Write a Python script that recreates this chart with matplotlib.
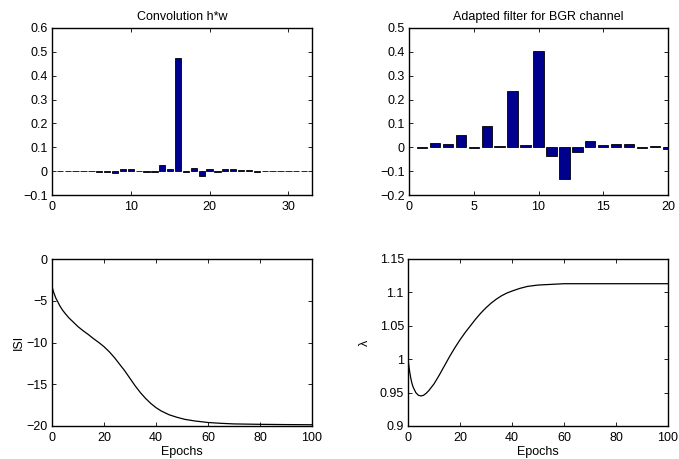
import matplotlib
matplotlib.use("Agg")
import matplotlib.pyplot as plt
import numpy as np

plt.rcParams['font.family'] = ['Liberation Sans', 'DejaVu Sans']
plt.rcParams['font.size'] = 9

# Convolution h*w (indices 1..32)
conv_idx = list(range(1, 33))
conv_vals = [0.0, 0.0, 0.0, 0.0, 0.0, -0.004, -0.004, -0.007, 0.007, 0.008,
             0.002, -0.002, -0.002, 0.027, 0.01, 0.475, -0.002, 0.013, -0.02, 0.008,
             -0.002, 0.01, 0.007, 0.005, 0.006, -0.004, 0.001, -0.001, -0.001, -0.001,
             -0.001, -0.001]

# Adapted filter (indices 1..20)
filt_idx = list(range(1, 21))
filt_vals = [-0.002, 0.018, 0.013, 0.052, -0.002, 0.088, 0.004, 0.235, 0.008, 0.402,
             -0.035, -0.135, -0.018, 0.025, 0.01, 0.013, 0.013, -0.002, 0.005, -0.008]

# ISI curve
isi_epochs = [0, 0.5, 1, 1.5, 2, 3, 4, 5, 6.5, 8, 10, 12, 14, 16, 18, 20, 22, 24, 26,
              28, 30, 32, 34, 36, 38, 40, 42, 45, 48, 51, 55, 60, 65, 70, 80, 90, 100]
isi_vals = [-3.3, -3.85, -4.3, -4.7, -5.0, -5.6, -6.1, -6.5, -7.05, -7.5, -8.1, -8.6,
            -9.05, -9.55, -10.0, -10.5, -11.1, -11.8, -12.6, -13.4, -14.3, -15.2, -16.0,
            -16.7, -17.3, -17.8, -18.2, -18.65, -18.95, -19.2, -19.4, -19.58, -19.68,
            -19.75, -19.8, -19.83, -19.85]

# lambda curve
lam_epochs = [0, 0.5, 1, 1.5, 2, 3, 4, 5, 6, 7, 8, 10, 12, 14, 16, 18, 20, 22, 24, 26,
              28, 30, 32, 34, 36, 38, 40, 43, 46, 50, 55, 60, 70, 80, 100]
lam_vals = [1.0, 0.985, 0.973, 0.964, 0.958, 0.95, 0.946, 0.945, 0.946, 0.949, 0.953,
            0.963, 0.976, 0.99, 1.004, 1.017, 1.029, 1.04, 1.05, 1.06, 1.069, 1.077,
            1.084, 1.09, 1.095, 1.099, 1.102, 1.106, 1.109, 1.111, 1.112, 1.113, 1.113,
            1.113, 1.113]

W, H = 679, 459
fig = plt.figure(figsize=(W / 100, H / 100), dpi=100)

def ax_at(l, r, t, b):
    return fig.add_axes([l / W, 1 - b / H, (r - l) / W, (b - t) / H])

def style(ax):
    ax.tick_params(direction='in', top=True, right=True, length=3, width=0.6)
    ax.tick_params(axis='x', pad=4)
    ax.tick_params(axis='y', pad=3)
    for s in ax.spines.values():
        s.set_linewidth(1.0)

bar_color = '#00008F'

ax1 = ax_at(52, 312, 28, 195)
ax1.bar(conv_idx, conv_vals, width=0.8, color=bar_color, edgecolor='black', linewidth=0.6)
ax1.set_xlim(0, 33)
ax1.set_ylim(-0.1, 0.6)
ax1.set_xticks([0, 10, 20, 30])
ax1.set_yticks(np.round(np.arange(-0.1, 0.61, 0.1), 2))
ax1.set_yticklabels(['\u22120.1', '0', '0.1', '0.2', '0.3', '0.4', '0.5', '0.6'])
ax1.set_title('Convolution h*w', fontsize=9, pad=6)
style(ax1)

ax2 = ax_at(409, 668, 28, 195)
ax2.bar(filt_idx, filt_vals, width=0.8, color=bar_color, edgecolor='black', linewidth=0.6)
ax2.set_xlim(0, 20)
ax2.set_ylim(-0.2, 0.5)
ax2.set_xticks([0, 5, 10, 15, 20])
ax2.set_yticks(np.round(np.arange(-0.2, 0.51, 0.1), 2))
ax2.set_yticklabels(['\u22120.2', '\u22120.1', '0', '0.1', '0.2', '0.3', '0.4', '0.5'])
ax2.set_title('Adapted filter for BGR channel', fontsize=9, pad=6)
style(ax2)

ax3 = ax_at(52, 312, 259, 426)
ax3.plot(isi_epochs, isi_vals, color='black', linewidth=0.9)
ax3.set_xlim(0, 100)
ax3.set_ylim(-20, 0)
ax3.set_xticks([0, 20, 40, 60, 80, 100])
ax3.set_yticks([-20, -15, -10, -5, 0])
ax3.set_yticklabels(['\u221220', '\u221215', '\u221210', '\u22125', '0'])
ax3.set_xlabel('Epochs', labelpad=2)
ax3.set_ylabel('ISI', labelpad=1)
style(ax3)

ax4 = ax_at(408, 668, 259, 426)
ax4.plot(lam_epochs, lam_vals, color='black', linewidth=0.9)
ax4.set_xlim(0, 100)
ax4.set_ylim(0.9, 1.15)
ax4.set_xticks([0, 20, 40, 60, 80, 100])
ax4.set_yticks([0.9, 0.95, 1.0, 1.05, 1.1, 1.15])
ax4.set_yticklabels(['0.9', '0.95', '1', '1.05', '1.1', '1.15'])
ax4.set_xlabel('Epochs', labelpad=2)
ax4.set_ylabel('\u03bb', labelpad=6)
style(ax4)

fig.savefig('out.png', dpi=100)
